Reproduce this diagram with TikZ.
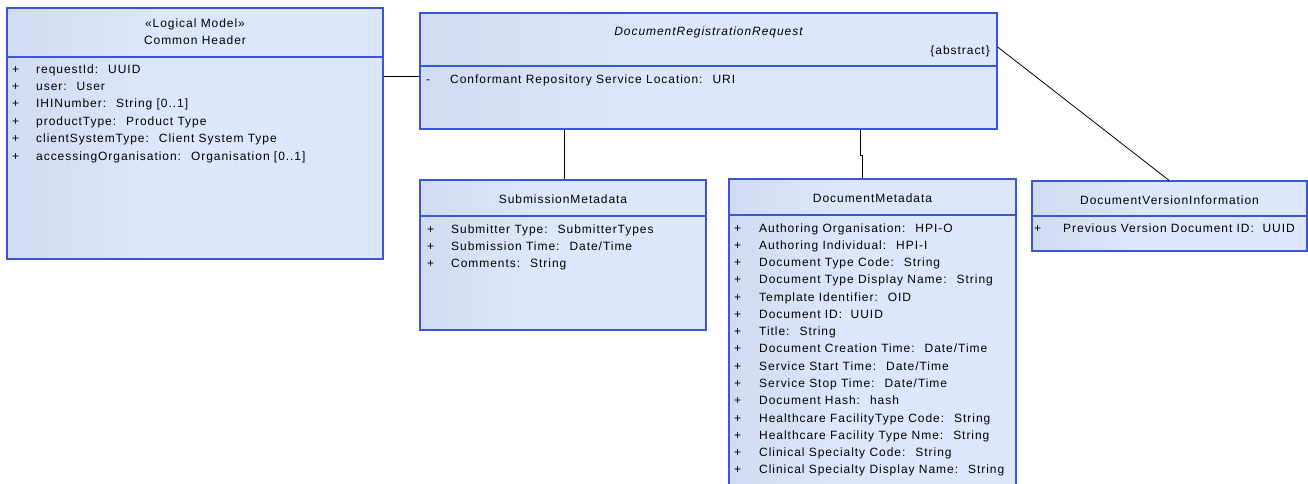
\documentclass[tikz,border=0pt]{standalone}
\usepackage{fontspec}
\newfontfamily\umlfont[LetterSpace=8]{Liberation Sans}
\usetikzlibrary{positioning}
\definecolor{classline}{RGB}{58,86,212}
\definecolor{classdark}{RGB}{194,205,230}
\definecolor{classlight}{RGB}{220,230,252}
\pgfdeclarehorizontalshading{classfill}{100bp}{color(0bp)=(classdark); color(45bp)=(classlight); color(100bp)=(classlight)}
\tikzset{
	classbox/.style={draw=classline, line width=1.3pt, shading=classfill, inner sep=0pt},
	sepline/.style={classline, line width=1.1pt},
	member/.style={anchor=mid west, inner sep=0pt, font=\umlfont\fontsize{12}{14}\selectfont},
	classname/.style={anchor=mid, inner sep=0pt, font=\umlfont\fontsize{12}{14}\selectfont},
	assoc/.style={black, line width=1pt}
}

\begin{document}
\begin{tikzpicture}[x=1pt, y=-1pt]
			\useasboundingbox (0,0) rectangle (1308,484);
			\clip (0,0) rectangle (1308,484);
			
			\node[classbox, minimum width=376, minimum height=251] (ch) at (195,133.5) {};
			\node[classbox, minimum width=577, minimum height=116] (drr) at (708.5,71) {};
			\node[classbox, minimum width=286, minimum height=150] (sm) at (563,255) {};
			\node[classbox, minimum width=287, minimum height=341] (dm) at (872.5,349.5) {};
			\node[classbox, minimum width=275, minimum height=70] (dvi) at (1169.5,216) {};
			
			\draw[sepline] (ch.west |- 0,57) -- (ch.east |- 0,57);
			\draw[sepline] (drr.west |- 0,66) -- (drr.east |- 0,66);
			\draw[sepline] (sm.west |- 0,216) -- (sm.east |- 0,216);
			\draw[sepline] (dm.west |- 0,215) -- (dm.east |- 0,215);
			\draw[sepline] (dvi.west |- 0,216) -- (dvi.east |- 0,216);
			
			\node[classname] (ch-st) at (195,25) {«Logical Model»};
			\node[classname] (ch-nm) at (195,42) {Common Header};
			\node[classname, font=\umlfont\itshape\fontsize{12}{14}\selectfont] (drr-nm) at (708.5,33) {DocumentRegistrationRequest};
			\node[classname, anchor=mid east] (drr-ab) at (990,52) {\{abstract\}};
			\node[classname] (sm-nm) at (563,201) {SubmissionMetadata};
			\node[classname] (dm-nm) at (872.5,200.5) {DocumentMetadata};
			\node[classname] (dvi-nm) at (1169.5,202) {DocumentVersionInformation};
			
			\foreach \t [count=\i] in {requestId:~ UUID, user:~ User, IHINumber:~ String [0..1], productType:~ Product Type, clientSystemType:~ Client System Type, accessingOrganisation:~ Organisation [0..1]}
			{
				\node[member] (ch-p\i) at (12,{71+(\i-1)*17.4}) {+};
				\node[member] (ch-m\i) at (36,{71+(\i-1)*17.4}) {\t};
			}
			\node[member] (drr-p1) at (426,81) {-};
			\node[member] (drr-m1) at (450,81) {Conformant Repository Service Location:~ URI};
			\foreach \t [count=\i] in {Submitter Type:~ SubmitterTypes, Submission Time:~ Date/Time, Comments:~ String}
			{
				\node[member] (sm-p\i) at (427,{231+(\i-1)*17.3}) {+};
				\node[member] (sm-m\i) at (451,{231+(\i-1)*17.3}) {\t};
			}
			\foreach \t [count=\i] in {Authoring Organisation:~ HPI-O, Authoring Individual:~ HPI-I, Document Type Code:~ String, Document Type Display Name:~ String, Template Identifier:~ OID, Document ID:~ UUID, Title:~ String, Document Creation Time:~ Date/Time, Service Start Time:~ Date/Time, Service Stop Time:~ Date/Time, Document Hash:~ hash, Healthcare FacilityType Code:~ String, Healthcare Facility Type Nme:~ String, Clinical Specialty Code:~ String, Clinical Specialty Display Name:~ String}
			{
				\node[member] (dm-p\i) at (734,{230+(\i-1)*17.26}) {+};
				\node[member] (dm-m\i) at (759,{230+(\i-1)*17.26}) {\t};
			}
			\node[member] (dvi-p1) at (1034,230) {+};
			\node[member] (dvi-m1) at (1063,230) {Previous Version Document ID:~ UUID};
			
			\coordinate (jog) at (860,155);
			\coordinate (ab) at (997,47);
			\coordinate (vi) at (1169,0);
			\draw[assoc] (ch.east |- 0,77) -- (drr.west |- 0,77);
			\draw[assoc] (drr.south -| 564,0) -- (sm.north -| 564,0);
			\draw[assoc] (drr.south -| jog) -- (jog) -- ++(2,0) -- (dm.north -| 862,0);
			\draw[assoc, line width=0.8pt] (drr.east |- ab) -- (dvi.north -| vi);
		\end{tikzpicture}
\end{document}
